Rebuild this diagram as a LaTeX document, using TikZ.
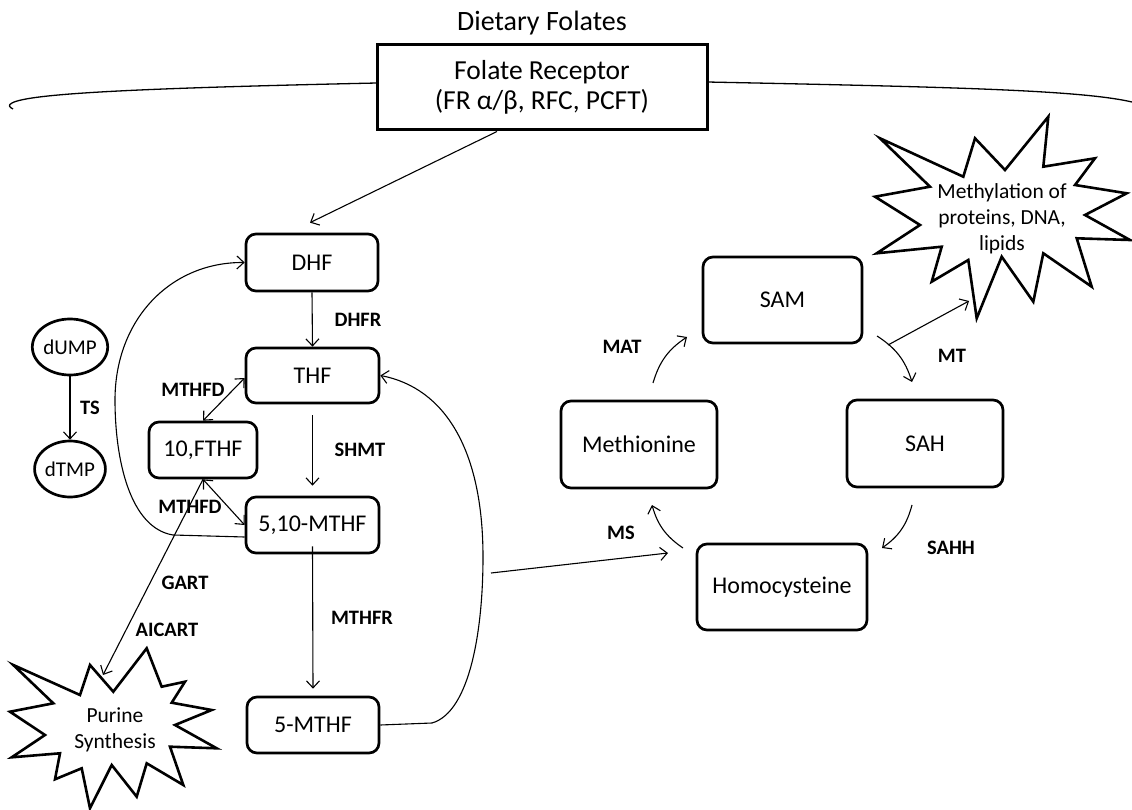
\documentclass[tikz,border=0pt]{standalone}
\usepackage{fontspec}
\setmainfont{Carlito}
\usetikzlibrary{arrows.meta,calc,shapes.geometric}
\begin{document}
\begin{tikzpicture}[x=1pt,y=-1pt,
  box/.style={draw, line width=2.7pt, rounded corners=10pt, inner sep=0pt, fill=white,
    font=\fontsize{24}{28}\selectfont},
  oval/.style={draw, line width=2.7pt, ellipse, inner sep=0pt, minimum width=66pt, minimum height=56pt,
    font=\fontsize{21}{26}\selectfont},
  enz/.style={font=\bfseries\fontsize{20.5}{24}\selectfont, inner sep=0pt},
  startext/.style={align=center, inner sep=0pt, font=\fontsize{21.5}{26}\selectfont},
  starline/.style={line width=2.6pt, line join=miter, miter limit=6},
  arr/.style={line width=1.1pt, -{Straight Barb[length=7pt,width=13pt]}},
  dbl/.style={line width=1.1pt, {Straight Barb[length=7pt,width=13pt]}-{Straight Barb[length=7pt,width=13pt]}},
  membrane/.style={line width=1.3pt}
]
\useasboundingbox (0,0) rectangle (1132,810);

% membrane
\draw[membrane] (377,83) .. controls (150,88) and (30,93) .. (12,103) .. controls (8,105) and (9,107) .. (13,109);
\draw[membrane] (707,82) .. controls (950,87) and (1080,90) .. (1132,102);

% top
\node[font=\fontsize{28}{32}\selectfont, inner sep=0pt] (diet) at (542,23) {Dietary Folates};
\node[box, line width=3pt, rounded corners=0pt, minimum width=330pt, minimum height=85pt, align=center,
  font=\fontsize{27.5}{30}\selectfont] (FR) at (542,87.5) {Folate Receptor\\(FR α/β, RFC, PCFT)};

% folate boxes
\node[box, minimum width=132pt, minimum height=57pt] (DHF) at (312,262.5) {DHF};
\node[box, minimum width=133pt, minimum height=55pt] (THF) at (312.5,375.5) {THF};
\node[box, minimum width=108pt, minimum height=56pt] (FTHF) at (203,450) {10,FTHF};
\node[box, minimum width=133pt, minimum height=56pt] (M510) at (312.5,525) {5,10-MTHF};
\node[box, minimum width=132pt, minimum height=56pt] (M5) at (313,725) {5-MTHF};

% nucleotides
\node[oval] (dUMP) at (70,347) {dUMP};
\node[oval] (dTMP) at (70,469) {dTMP};

% methionine cycle
\node[box, minimum width=159pt, minimum height=86pt] (SAM) at (782.5,300) {SAM};
\node[box, minimum width=156pt, minimum height=87pt] (Met) at (639,444.5) {Methionine};
\node[box, minimum width=156pt, minimum height=87pt] (SAH) at (925,443.5) {SAH};
\node[box, minimum width=170pt, minimum height=86pt] (Hcy) at (782,587) {Homocysteine};

% stars
\draw[starline] (146.7,648.3) -- (161.7,686.7) -- (185,681.7) -- (171.7,702.7) -- (211.7,710) -- (175,725)
  -- (216.7,748.3) -- (170,746.7) -- (183.3,785) -- (146.7,763.3) -- (136.7,796.7) -- (111.7,765)
  -- (90,808.3) -- (81.7,768.3) -- (55,779.3) -- (60,753.3) -- (11.7,757.3) -- (45,735)
  -- (10,711.7) -- (53.3,703.3) -- (13.3,665) -- (80,695) -- (90,665) -- (113.3,691.7) -- cycle;
\node[startext] (pur) at (115,730) {Purine\\Synthesis};

\draw[starline] (880,138.3) -- (963.3,176.7) -- (975,138.3) -- (1005,170) -- (1048.3,116.7) -- (1043.3,166.7)
  -- (1095,158.3) -- (1075,185) -- (1126.7,193.3) -- (1085,215) -- (1130,240) -- (1076.7,238.3)
  -- (1091.7,286.7) -- (1043.3,253.3) -- (1033.3,301.7) -- (1001.7,256.7) -- (976.7,318.3) -- (968.3,260)
  -- (931.7,281.7) -- (941.7,246.7) -- (876.7,253.3) -- (920,225) -- (875,196.7) -- (930,186.7) -- cycle;
\node[startext] (meth) at (1002,219) {Methylation of\\proteins, DNA,\\lipids};

% free-end coordinates
\coordinate (purtip) at (103,675);
\coordinate (mtstart) at (888,345);
\coordinate (mttip) at (969,301);
\coordinate (msstart) at (491,573);
\coordinate (msend) at (668,553);
\coordinate (matA) at (653,383);
\coordinate (matB) at (687,337);
\coordinate (msA) at (683,548);
\coordinate (msB) at (652,505);
\coordinate (mtA) at (877,336);
\coordinate (mtB) at (912,382);
\coordinate (sahA) at (912,505);
\coordinate (sahB) at (882,548);

% connectors
\draw[arr] ([xshift=-45pt]FR.south) -- ([xshift=-2pt,yshift=10pt]DHF.north);
\draw[arr] (DHF.south) -- (THF.north);
\draw[arr] ([yshift=-11pt]THF.south) -- ([yshift=10pt]M510.north);
\draw[arr] ([yshift=8pt]M510.south) -- ([yshift=7pt]M5.north);
\draw[arr] (dUMP.south) -- (dTMP.north);
\draw[dbl] (FTHF.north) -- ([yshift=-2.5pt]THF.west);
\draw[dbl] (FTHF.south) -- (M510.west);
\draw[arr] (FTHF.south) -- (purtip);
\draw[arr] ([yshift=-12pt]M510.west) -- (173,535) .. controls (130,528) and (115,460) .. (115,400)
  .. controls (115,320) and (170,262) .. (DHF.west);
\draw[arr] (M5.east) -- (432,723) .. controls (470,712) and (483,630) .. (483,557)
  .. controls (483,450) and (445,388) .. (THF.east);
\draw[arr] (msstart) -- (msend);
\draw[arr] (matA) to[bend left=20] (matB);
\draw[arr] (msA) to[bend left=20] (msB);
\draw[arr] (mtA) to[bend left=20] (mtB);
\draw[arr] (sahA) to[bend left=20] (sahB);
\draw[arr] (mtstart) -- (mttip);

% enzyme labels
\node[enz] (lDHFR) at (358,320) {DHFR};
\node[enz] (lTS) at (90,408) {TS};
\node[enz] (lMTHFD1) at (193,390) {MTHFD};
\node[enz] (lSHMT) at (360,450) {SHMT};
\node[enz] (lMTHFD2) at (190,507) {MTHFD};
\node[enz] (lGART) at (185,583) {GART};
\node[enz] (lAICART) at (167,630) {AICART};
\node[enz] (lMTHFR) at (362,618) {MTHFR};
\node[enz] (lMAT) at (622,347) {MAT};
\node[enz] (lMS) at (621,533) {MS};
\node[enz] (lMT) at (952,356) {MT};
\node[enz] (lSAHH) at (951,548) {SAHH};
\end{tikzpicture}
\end{document}
